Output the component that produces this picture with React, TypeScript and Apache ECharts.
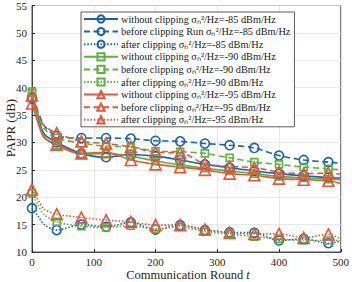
import React, { useEffect, useRef } from 'react';
import * as echarts from 'echarts';

const rounds = [0, 10, 20, 40, 80, 120, 160, 200, 240, 280, 320, 360, 400, 440, 480, 500];

const blueWithout = [38.2, 34.5, 31.5, 30.0, 28.0, 27.3, 27.8, 27.5, 26.8, 26.0, 25.4, 24.8, 24.3, 23.9, 23.6, 23.5];
const blueBefore = [38.0, 35.5, 33.0, 31.2, 30.8, 30.8, 30.7, 30.3, 30.2, 29.8, 29.5, 29.0, 27.6, 26.8, 26.4, 26.2];
const blueAfter = [18.0, 16.5, 15.0, 14.0, 15.0, 14.6, 15.4, 14.1, 14.9, 14.0, 13.6, 13.5, 12.1, 12.4, 11.6, 12.0];
const greenWithout = [39.0, 34.0, 31.0, 29.5, 27.8, 28.0, 27.5, 26.6, 25.9, 25.3, 24.8, 24.3, 23.8, 23.5, 23.3, 23.2];
const greenBefore = [39.3, 35.0, 32.5, 30.8, 29.9, 29.3, 29.2, 28.4, 28.3, 28.0, 27.2, 26.4, 26.0, 25.5, 25.2, 25.0];
const greenAfter = [20.7, 18.5, 16.8, 15.5, 14.7, 14.5, 14.8, 14.2, 14.6, 13.7, 13.3, 12.8, 12.4, 12.1, 12.1, 12.1];
const redWithout = [37.1, 33.5, 30.8, 29.6, 28.0, 28.2, 26.8, 26.0, 25.5, 25.0, 24.3, 24.0, 23.4, 23.2, 23.0, 22.5];
const redBefore = [38.6, 35.0, 33.0, 31.7, 30.2, 29.8, 29.2, 28.2, 28.1, 26.1, 25.6, 25.4, 24.6, 24.3, 24.4, 24.2];
const redAfter = [21.4, 19.5, 17.8, 16.9, 16.3, 15.8, 15.5, 14.9, 14.9, 14.1, 13.5, 13.3, 13.3, 12.6, 13.2, 12.4];

const legendNames = [
  'without clipping σₙ²/Hz=-85 dBm/Hz',
  'before clipping Run σₙ²/Hz=-85 dBm/Hz',
  'after clipping σₙ²/Hz=-85 dBm/Hz',
  'without clipping σₙ²/Hz=-90 dBm/Hz',
  'before clipping σₙ²/Hz=-90 dBm/Hz',
  'after clipping σₙ²/Hz=-90 dBm/Hz',
  'without clipping σₙ²/Hz=-95 dBm/Hz',
  'before clipping σₙ²/Hz=-95 dBm/Hz',
  'after clipping σₙ²/Hz=-95 dBm/Hz',
];

const BLUE = '#1a62b0';
const GREEN = '#5fb041';
const RED = '#e4563b';
const SOLID: any = 'solid';
const DASHED: any = [6, 3.5];
const DOTTED: any = [1.5, 1.8];

function mk(name: string, values: number[], color: string, type: any, symbol: string, size: number) {
  return {
    name,
    type: 'line',
    smooth: 0.3,
    showAllSymbol: true,
    symbol,
    symbolSize: size,
    lineStyle: { color, width: 1.6, type },
    itemStyle: { color: 'rgba(255,255,255,0)', borderColor: color, borderWidth: 1.6 },
    data: rounds.map((t, i) =>
      t % 40 === 0 && t < 500 ? { value: [t, values[i]] } : { value: [t, values[i]], symbol: 'none' }
    ),
  };
}

export default function App() {
  const ref = useRef<HTMLDivElement>(null);
  useEffect(() => {
    const chart = echarts.init(ref.current!, null, { renderer: 'svg' });
    const font = 'Liberation Serif';
    chart.setOption({
      animation: false,
      backgroundColor: '#fff',
      grid: { left: 32, right: 9, top: 5, bottom: 30, show: true, borderColor: '#262626', borderWidth: 0.8 },
      xAxis: {
        type: 'value', min: 0, max: 500, interval: 100,
        axisLine: { show: true, lineStyle: { color: '#262626', width: 0.8 } },
        axisTick: { show: true, inside: true, length: 3, lineStyle: { color: '#262626' } },
        axisLabel: { color: '#262626', fontFamily: font, fontSize: 11, margin: 4 },
        splitLine: { show: true, lineStyle: { color: '#e3e3e3', width: 0.8 } },
      },
      yAxis: {
        type: 'value', min: 10, max: 55, interval: 5,
        axisLine: { show: true, lineStyle: { color: '#262626', width: 0.8 } },
        axisTick: { show: true, inside: true, length: 3, lineStyle: { color: '#262626' } },
        axisLabel: { color: '#262626', fontFamily: font, fontSize: 11, margin: 5 },
        splitLine: { show: true, lineStyle: { color: '#e3e3e3', width: 0.8 } },
      },
      legend: {
        orient: 'vertical', left: 81, top: 12,
        itemWidth: 34, itemHeight: 9, itemGap: 2.6,
        padding: [2, 4, 2, 2],
        backgroundColor: '#fff', borderColor: '#333', borderWidth: 0.8,
        textStyle: { fontFamily: font, fontSize: 10.3, color: '#1a1a1a', padding: [0, 0, 0, -2] },
        data: legendNames,
      },
      graphic: [
        {
          type: 'text', x: 10, y: 128, rotation: Math.PI / 2,
          style: { text: 'PAPR (dB)', fontFamily: font, fontSize: 13, fill: '#262626', align: 'center', verticalAlign: 'middle' },
        },
        {
          type: 'text', x: 188, y: 274.5,
          style: {
            text: 'Communication Round {i|t}', fontFamily: font, fontSize: 12.5, fill: '#262626', align: 'center', verticalAlign: 'middle',
            rich: { i: { fontStyle: 'italic', fontFamily: font, fontSize: 12.5, fill: '#262626' } },
          },
        },
      ],
      series: [
        mk(legendNames[0], blueWithout, BLUE, SOLID, 'circle', 9),
        mk(legendNames[1], blueBefore, BLUE, DASHED, 'circle', 9),
        mk(legendNames[2], blueAfter, BLUE, DOTTED, 'circle', 9),
        mk(legendNames[3], greenWithout, GREEN, SOLID, 'rect', 7),
        mk(legendNames[4], greenBefore, GREEN, DASHED, 'rect', 7),
        mk(legendNames[5], greenAfter, GREEN, DOTTED, 'rect', 7),
        mk(legendNames[6], redWithout, RED, SOLID, 'triangle', 11),
        mk(legendNames[7], redBefore, RED, DASHED, 'triangle', 11),
        mk(legendNames[8], redAfter, RED, DOTTED, 'triangle', 11),
      ],
    });
    return () => chart.dispose();
  }, []);
  return <div ref={ref} style={{ position: 'fixed', left: 0, top: 0, width: 352, height: 282 }} />;
}
